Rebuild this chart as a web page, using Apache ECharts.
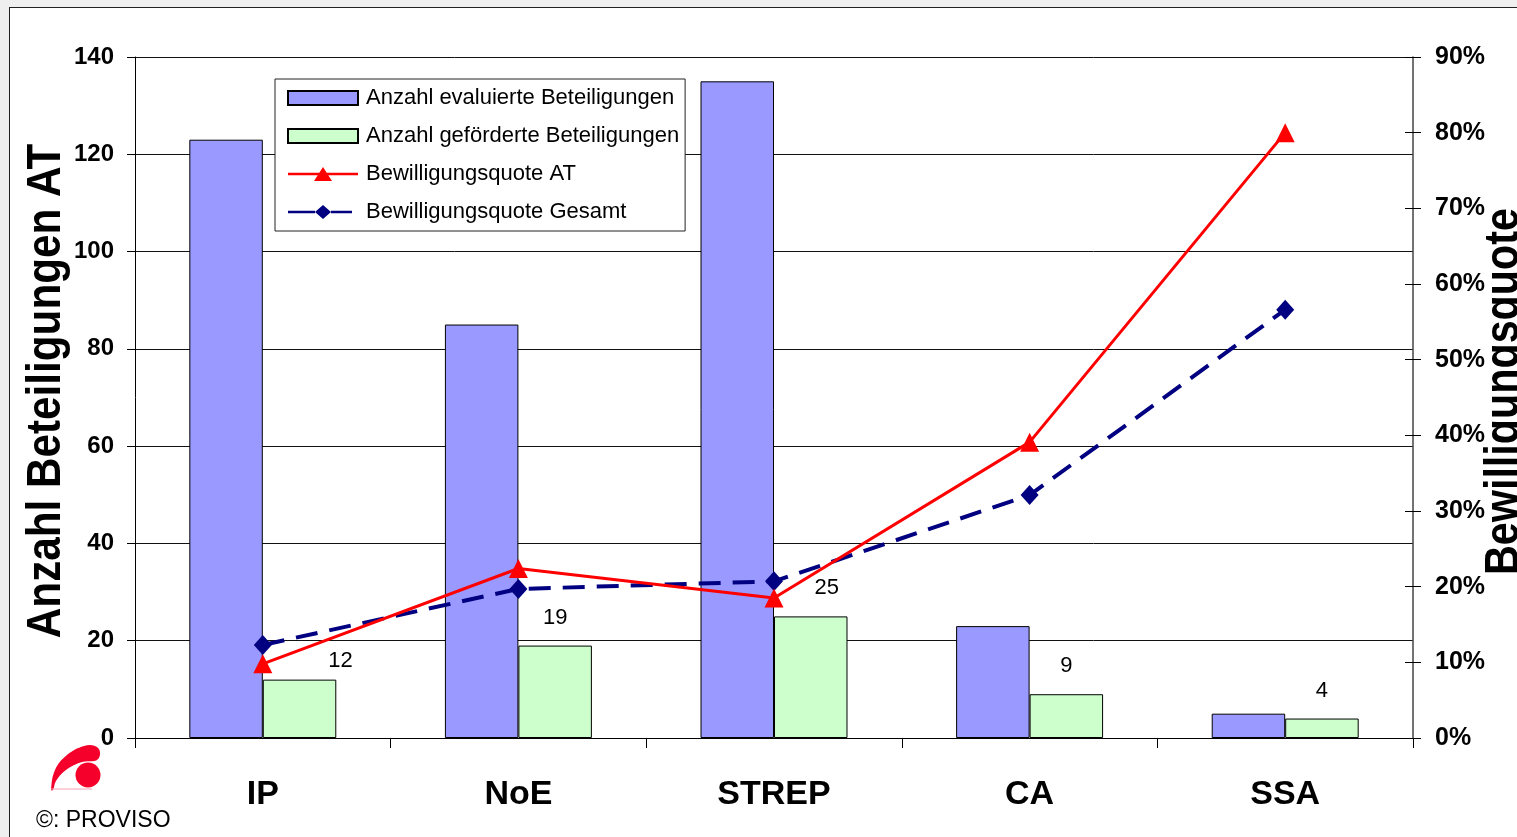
<!DOCTYPE html>
<html>
<head>
<meta charset="utf-8">
<script src="https://cdn.jsdelivr.net/npm/echarts@6/dist/echarts.min.js"></script>
<style>
html,body{margin:0;padding:0;background:#efefef;width:1517px;height:837px;overflow:hidden;}
#frame{position:absolute;left:9px;top:7px;width:1520px;height:840px;background:#fff;border:1px solid #222;}
#chart{position:absolute;left:0;top:0;width:1517px;height:837px;}
</style>
</head>
<body>
<div id="frame"></div>
<div id="chart"></div>
<script>
const categories = ['IP', 'NoE', 'STREP', 'CA', 'SSA'];
const evaluiert = [123, 85, 135, 23, 5];
const gefoerdert = [12, 19, 25, 9, 4];
const quoteAT = [9.8, 22.4, 18.5, 39.1, 80.0];
const quoteGesamt = [12.3, 19.7, 20.7, 32.1, 56.6];
const leftTicks = [0, 20, 40, 60, 80, 100, 120, 140];
const rightTicks = [0, 10, 20, 30, 40, 50, 60, 70, 80, 90];
const leftTitle = 'Anzahl Beteiligungen AT';
const rightTitle = 'Bewilligungsquote';

const FONT = 'Liberation Sans, Arial, sans-serif';
const labelOffsets = [[41, 9], [0, 0], [16, 0], [0, 0], [0, 0]];
const iconAT = 'path://M0,6.5L70,6.5L70,9.5L0,9.5Z M26,16L35,0L44,16Z';
const iconGesamt = 'path://M0,6.5L27,6.5L27,9.5L0,9.5Z M43,6.5L64,6.5L64,9.5L43,9.5Z M35,0L43,8L35,16L27,8Z M64,6.5L70,6.5L70,6.6L64,6.6Z';

const chart = echarts.init(document.getElementById('chart'), null, {renderer: 'canvas'});
const option = {
  backgroundColor: 'transparent',
  animation: false,
  textStyle: {fontFamily: FONT},
  grid: {left: 135, right: 104, top: 57, bottom: 99, outerBoundsMode: 'none', containLabel: false},
  legend: {
    orient: 'vertical', left: 275, top: 79,
    backgroundColor: '#fff', borderColor: '#222', borderWidth: 1,
    padding: [8, 6, 8, 12],
    itemWidth: 70, itemHeight: 14, itemGap: 16,
    symbolKeepAspect: false,
    textStyle: {fontFamily: FONT, fontSize: 22, color: '#000', padding: [0, 0, 0, 3]},
    data: [
      {name: 'Anzahl evaluierte Beteiligungen', icon: 'rect'},
      {name: 'Anzahl geförderte Beteiligungen', icon: 'rect'},
      {name: 'Bewilligungsquote AT', icon: iconAT, itemStyle: {borderWidth: 0}},
      {name: 'Bewilligungsquote Gesamt', icon: iconGesamt, itemStyle: {borderWidth: 0}}
    ]
  },
  xAxis: {
    type: 'category', data: categories,
    axisLine: {lineStyle: {color: '#000', width: 1}},
    axisTick: {show: true, length: 10, lineStyle: {color: '#000'}},
    axisLabel: {fontFamily: FONT, fontSize: 34, fontWeight: 'bold', color: '#000', margin: 40}
  },
  yAxis: [
    {
      type: 'value', min: 0, max: leftTicks[leftTicks.length - 1], interval: leftTicks[1] - leftTicks[0],
      position: 'left',
      axisLine: {show: true, lineStyle: {color: '#000'}},
      axisTick: {show: true, length: 8, lineStyle: {color: '#000'}},
      axisLabel: {fontFamily: FONT, fontSize: 24, fontWeight: 'bold', color: '#000', margin: 21},
      splitLine: {show: true, lineStyle: {color: '#111', width: 1}}
    },
    {
      type: 'value', min: 0, max: rightTicks[rightTicks.length - 1], interval: rightTicks[1] - rightTicks[0],
      position: 'right',
      axisLine: {show: true, lineStyle: {color: '#444', width: 1.5}},
      axisTick: {show: true, length: 8, lineStyle: {color: '#000'}},
      axisLabel: {fontFamily: FONT, fontSize: 25, fontWeight: 'bold', color: '#000', margin: 22, formatter: '{value}%'},
      splitLine: {show: false}
    },
    {
      type: 'value', min: 0, max: rightTicks[rightTicks.length - 1], interval: rightTicks[1] - rightTicks[0],
      position: 'right', offset: 0,
      axisLine: {show: false}, axisLabel: {show: false}, splitLine: {show: false},
      axisTick: {show: true, inside: true, length: 8, lineStyle: {color: '#000'}}
    }
  ],
  series: [
    {
      name: 'Anzahl evaluierte Beteiligungen', type: 'bar', yAxisIndex: 0,
      data: evaluiert, barGap: '0%', barCategoryGap: '42.5%',
      itemStyle: {color: '#9999ff', borderColor: '#000', borderWidth: 1}
    },
    {
      name: 'Anzahl geförderte Beteiligungen', type: 'bar', yAxisIndex: 0,
      data: gefoerdert.map((v, i) => ({value: v, label: {offset: labelOffsets[i]}})),
      barGap: '0%', barCategoryGap: '42.5%',
      itemStyle: {color: '#ccffcc', borderColor: '#000', borderWidth: 1},
      label: {show: true, position: 'top', distance: 17, fontFamily: FONT, fontSize: 22, color: '#000'}
    },
    {
      name: 'Bewilligungsquote Gesamt', type: 'line', yAxisIndex: 1,
      data: quoteGesamt, z: 5,
      lineStyle: {color: '#000080', width: 4, type: [22, 12]},
      itemStyle: {color: '#000080'},
      symbol: 'diamond', symbolSize: [18, 20]
    },
    {
      name: 'Bewilligungsquote AT', type: 'line', yAxisIndex: 1,
      data: quoteAT, z: 6,
      lineStyle: {color: '#ff0000', width: 3},
      itemStyle: {color: '#ff0000'},
      symbol: 'triangle', symbolSize: 19
    }
  ],
  graphic: [
    {type: 'text', x: 46.5, y: 391, rotation: Math.PI / 2, scaleX: 0.88,
      style: {text: leftTitle, font: 'bold 48px ' + FONT, fill: '#000', align: 'center', verticalAlign: 'middle'}},
    {type: 'text', x: 1504.5, y: 391.5, rotation: Math.PI / 2, scaleX: 0.86,
      style: {text: rightTitle, font: 'bold 48px ' + FONT, fill: '#000', align: 'center', verticalAlign: 'middle'}},
    {type: 'polygon', shape: {smooth: 0.4, points: [[51,790],[55,770],[67,755],[84,746],[95,746],[100,752],[97,760],[82,762],[66,770],[56,781],[53,790]]}, style: {fill: '#f5002a'}},
    {type: 'circle', shape: {cx: 88, cy: 775, r: 12.5}, style: {fill: '#f5002a'}},
    {type: 'line', shape: {x1: 51, y1: 789, x2: 92, y2: 789}, style: {stroke: '#f7a0b0', lineWidth: 1}},
    {type: 'text', left: 36, top: 809, style: {text: '©: PROVISO', font: '23px ' + FONT, fill: '#000'}}
  ]
};
chart.setOption(option);
</script>
</body>
</html>
